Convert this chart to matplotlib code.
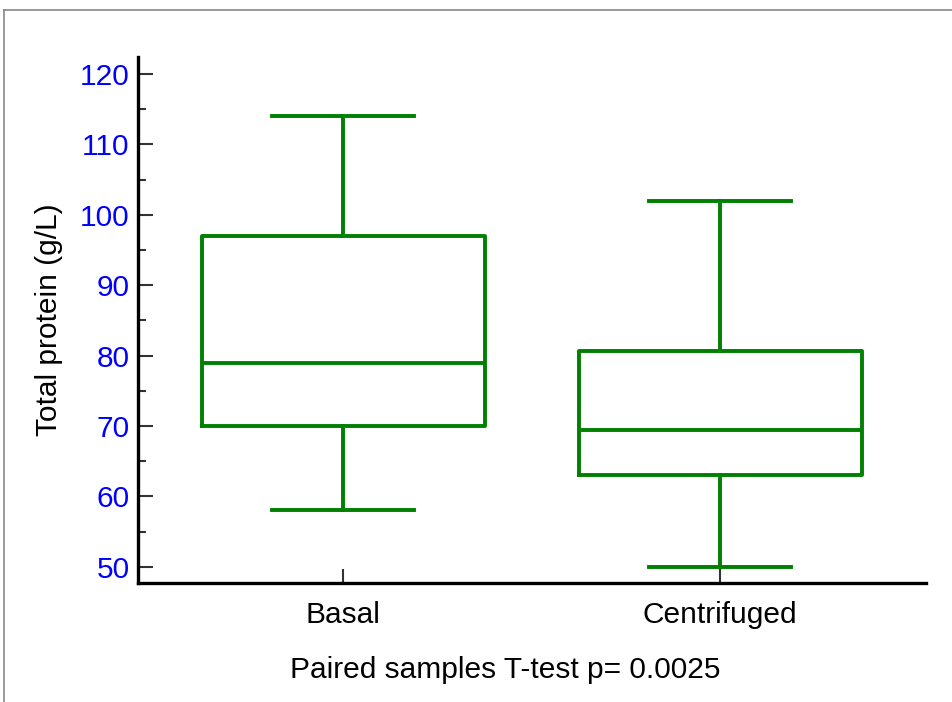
import matplotlib
matplotlib.use("Agg")
import matplotlib.pyplot as plt
from matplotlib.lines import Line2D

plt.rcParams['font.family'] = ['Liberation Sans', 'DejaVu Sans']

groups = ["Basal", "Centrifuged"]
whisker_low = [58, 50]
q1 = [70, 63]
median = [79, 69.5]
q3 = [97, 80.6]
whisker_high = [114, 102]

green = "#008000"

fig = plt.figure(figsize=(9.53, 7.02), dpi=100)
ax = fig.add_axes([0.1448, 0.1695, 0.8269, 0.7493])

stats = []
for i, name in enumerate(groups):
    stats.append(dict(label=name, whislo=whisker_low[i], q1=q1[i], med=median[i],
                      q3=q3[i], whishi=whisker_high[i], fliers=[]))

line = dict(color=green, linewidth=2.8)
ax.bxp(stats, positions=[1, 2], widths=0.75, showfliers=False,
       boxprops=line, medianprops=line, whiskerprops=line,
       capprops=line, capwidths=0.375)

ax.set_xlim(0.456, 2.546)
ax.set_ylim(47.7, 122.4)
ax.set_yticks([50, 60, 70, 80, 90, 100, 110, 120])
ax.set_yticks([55, 65, 75, 85, 95, 105, 115], minor=True)

for side in ["top", "right"]:
    ax.spines[side].set_visible(False)
for side in ["left", "bottom"]:
    ax.spines[side].set_linewidth(2.4)
    ax.spines[side].set_color("black")

ax.tick_params(axis="y", which="major", direction="in", length=11, width=1.5,
               color="#333333", labelsize=21.5, labelcolor="blue", pad=6)
ax.tick_params(axis="y", which="minor", direction="in", length=6, width=1.5,
               color="#333333")
ax.tick_params(axis="x", direction="in", length=10, width=1.5,
               color="#333333", labelsize=21.5, pad=13)

ax.set_ylabel("Total protein (g/L)", fontsize=21.5, labelpad=12)

fig.text(0.53, 0.046, "Paired samples T-test p= 0.0025", fontsize=21.5,
         ha="center", va="center")

# thin frame on top and left
fig.add_artist(Line2D([0.0045, 1.0], [0.986, 0.986], color="#888888", lw=1.2,
                      transform=fig.transFigure))
fig.add_artist(Line2D([0.0045, 0.0045], [0.0, 0.986], color="#888888", lw=1.2,
                      transform=fig.transFigure))

fig.savefig("out.png", dpi=100)
